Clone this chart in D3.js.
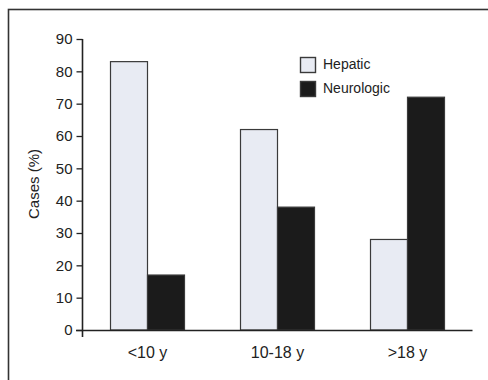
<!DOCTYPE html>
<html><head><meta charset="utf-8">
<script src="https://cdn.jsdelivr.net/npm/d3@7"></script>
<style>body{margin:0;background:#fff}svg{display:block}text{font-family:"Liberation Sans",Arial,sans-serif;fill:#222}</style>
</head><body>
<script>
const categories = ["<10 y", "10-18 y", ">18 y"];
const seriesNames = ["Hepatic", "Neurologic"];
const hepatic = [83, 62, 28];
const neurologic = [17, 38, 72];
const yTicks = [0, 10, 20, 30, 40, 50, 60, 70, 80, 90];
const colors = ["#e8ebf3", "#1b1b1b"];

const W = 488, H = 380;
const svg = d3.select("body").append("svg").attr("width", W).attr("height", H);

// frame
svg.append("rect").attr("x", 8.5).attr("y", 9.5).attr("width", 520).attr("height", 420)
  .attr("fill", "none").attr("stroke", "#333").attr("stroke-width", 1.6);

const x0 = 82.5, x1 = 472.5, yBase = 330, yTop = 39;
const x = d3.scaleBand().domain(categories).range([x0, x1]).paddingInner(0).paddingOuter(0);
const y = d3.scaleLinear().domain([0, 90]).range([yBase, yTop]);
const barW = 37;

const data = categories.map((c, i) => ({c, vals: [hepatic[i], neurologic[i]]}));

const g = svg.append("g");
data.forEach(d => {
  const cx = x(d.c) + x.bandwidth() / 2;
  d.vals.forEach((v, j) => {
    g.append("rect")
      .attr("x", cx - barW + j * barW)
      .attr("y", y(v))
      .attr("width", barW)
      .attr("height", yBase - y(v))
      .attr("fill", colors[j])
      .attr("stroke", "#3a3a3a")
      .attr("stroke-width", 1.2);
  });
});

// y axis
const ya = svg.append("g").attr("transform", `translate(${x0},0)`)
  .call(d3.axisLeft(y).tickValues(yTicks).tickSize(6).tickPadding(4).tickSizeOuter(0));
ya.select(".domain").remove();
ya.selectAll(".tick line").attr("stroke", "#222").attr("stroke-width", 1.3);
ya.selectAll(".tick text").style("font-size", "15px").attr("fill", "#222").style("font-family", '"Liberation Sans",Arial,sans-serif');
svg.append("line").attr("x1", x0).attr("x2", x0).attr("y1", yTop).attr("y2", yBase + 7)
  .attr("stroke", "#222").attr("stroke-width", 1.6);
// top cap tick of axis handled by tick 90

// x axis
svg.append("line").attr("x1", 76).attr("x2", x1).attr("y1", yBase + 0.5).attr("y2", yBase + 0.5)
  .attr("stroke", "#222").attr("stroke-width", 1.6);
svg.append("g").selectAll("text").data(categories).join("text")
  .attr("x", d => x(d) + x.bandwidth() / 2)
  .attr("y", 358)
  .attr("text-anchor", "middle")
  .style("font-size", "16px")
  .text(d => d);

// y label
svg.append("text").attr("transform", "translate(39,184) rotate(-90)")
  .attr("text-anchor", "middle").style("font-size", "15px").text("Cases (%)");

// legend
const lg = svg.append("g");
seriesNames.forEach((s, i) => {
  lg.append("rect").attr("x", 300.5).attr("y", 57.5 + i * 24).attr("width", 15).attr("height", 15)
    .attr("fill", colors[i]).attr("stroke", "#3a3a3a").attr("stroke-width", 1.4);
  lg.append("text").attr("x", 323).attr("y", 69 + i * 24).style("font-size", "14px").text(s);
});
</script>
</body></html>
